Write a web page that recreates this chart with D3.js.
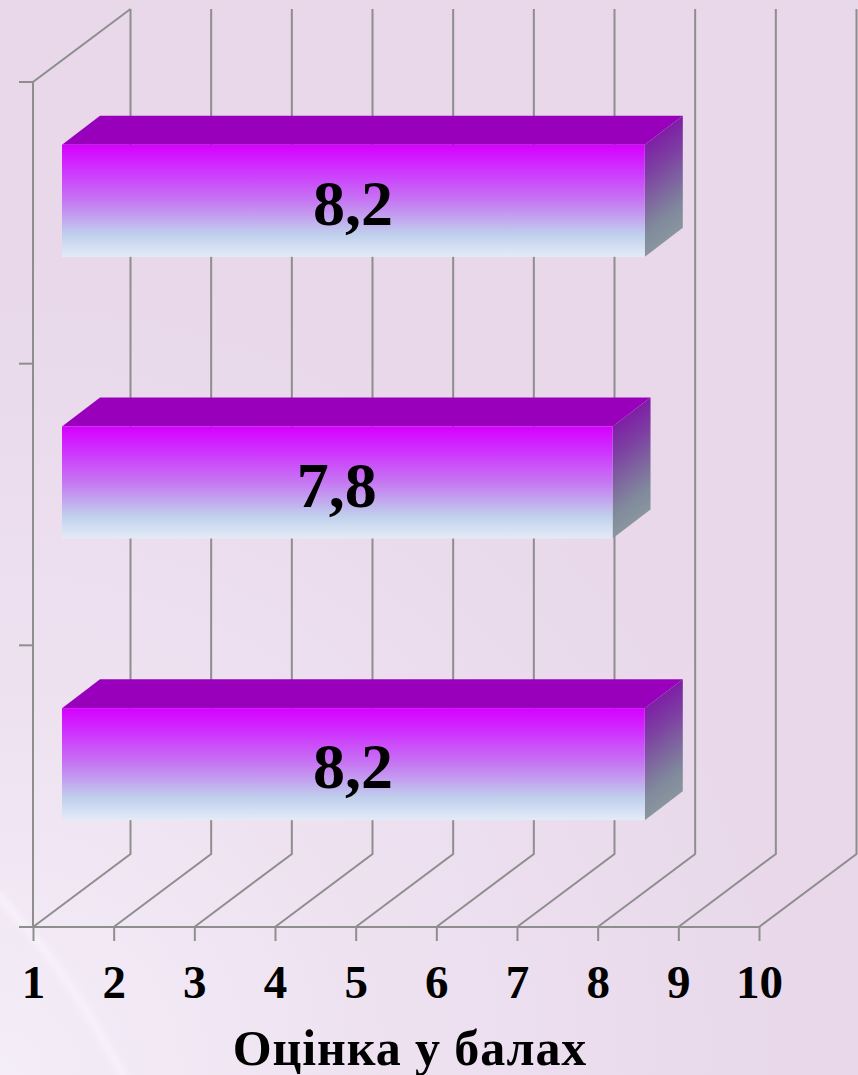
<!DOCTYPE html>
<html>
<head>
<meta charset="utf-8">
<script src="https://cdnjs.cloudflare.com/ajax/libs/d3/7.8.5/d3.min.js"></script>
<style>
  html, body { margin: 0; padding: 0; background: #e8d8ea; }
  svg { display: block; }
  text { font-family: "Liberation Serif", serif; font-weight: bold; fill: #000; }
</style>
</head>
<body>
<div id="chart"></div>
<script>
// values
const categories = ['a', 'b', 'c'];
const scores = [8.2, 7.8, 8.2];
const scoreLabels = ['8,2', '7,8', '8,2'];
const xTicks = [1, 2, 3, 4, 5, 6, 7, 8, 9, 10];
const axisTitle = 'Оцінка у балах';

const width = 858, height = 1075;
const depth = { x: 97.5, y: 73 };   // depth of the chart box
const barDepth = { x: 38, y: 29 };  // depth of a bar
const barShift = 29, barHeight = 112;
const gridColor = '#8e8e8e';

const svg = d3.select('#chart').append('svg')
  .attr('width', width)
  .attr('height', height);
const defs = svg.append('defs');

const x = d3.scaleLinear().domain([1, 10]).range([33, 759]);
const y = d3.scaleBand().domain(categories).range([82, 927]);

// background
const bg = defs.append('radialGradient')
  .attr('id', 'bg').attr('gradientUnits', 'userSpaceOnUse')
  .attr('cx', 0).attr('cy', 1075).attr('r', 820);
bg.append('stop').attr('offset', 0).attr('stop-color', '#f4eef8');
bg.append('stop').attr('offset', 0.45).attr('stop-color', '#eee2f1');
bg.append('stop').attr('offset', 1).attr('stop-color', '#e8d8ea');
svg.append('rect').attr('width', width).attr('height', height).attr('fill', 'url(#bg)');

defs.append('filter').attr('id', 'soft')
  .append('feGaussianBlur').attr('stdDeviation', 3);
svg.append('path')
  .attr('d', 'M-5,893 Q70,970 125,1080')
  .attr('fill', 'none').attr('stroke', '#f8f2fa').attr('stroke-width', 8)
  .attr('filter', 'url(#soft)');

// chart box
const grid = svg.append('g')
  .attr('fill', 'none').attr('stroke', gridColor).attr('stroke-width', 2);

grid.selectAll('.wall').data(xTicks).enter().append('path')
  .attr('class', 'wall')
  .attr('d', d => {
    const p = d3.path();
    p.moveTo(x(d), y.range()[1]);
    p.lineTo(x(d) + depth.x, y.range()[1] - depth.y);
    p.lineTo(x(d) + depth.x, y.range()[0] - depth.y);
    return p.toString();
  });

// y axis and its top edge
grid.append('path').attr('d', () => {
  const p = d3.path();
  p.moveTo(x(1), y.range()[1]);
  p.lineTo(x(1), y.range()[0]);
  p.lineTo(x(1) + depth.x, y.range()[0] - depth.y);
  return p.toString();
});
grid.selectAll('.ytick').data(categories.map(c => y(c)).concat(y.range()[1])).enter().append('line')
  .attr('class', 'ytick')
  .attr('x1', x(1) - 14).attr('x2', x(1))
  .attr('y1', d => d).attr('y2', d => d);

// x axis
const xAxis = svg.append('g')
  .attr('transform', `translate(0,${y.range()[1]})`)
  .call(d3.axisBottom(x).tickValues(xTicks).tickFormat(d3.format('d')).tickSize(14).tickPadding(24));
xAxis.selectAll('path, line').attr('stroke', gridColor).attr('stroke-width', 2);
xAxis.select('.domain').attr('d', `M${x(1)},0H${x(10)}`);
xAxis.selectAll('text')
  .attr('font-size', 47)
  .attr('font-family', '"Liberation Serif", serif')
  .attr('font-weight', 'bold')
  .attr('fill', '#000');

svg.append('text')
  .attr('x', 410).attr('y', 1065)
  .attr('text-anchor', 'middle')
  .attr('font-size', 50)
  .attr('letter-spacing', 0.9)
  .text(axisTitle);

// bar gradients
const front = defs.append('linearGradient')
  .attr('id', 'front').attr('x1', 0).attr('y1', 0).attr('x2', 0).attr('y2', 1);
[[0, '#d600ff'], [0.2, '#cf2eff'], [0.5, '#c677f2'], [0.8, '#bfd0ec'], [1, '#e4ebf7']]
  .forEach(s => front.append('stop').attr('offset', s[0]).attr('stop-color', s[1]));

const side = defs.append('linearGradient')
  .attr('id', 'side').attr('x1', 0).attr('y1', 0).attr('x2', 0.2).attr('y2', 1);
[[0, '#7f00a8'], [0.4, '#7d3fa2'], [0.8, '#808a9c'], [1, '#8c98a0']]
  .forEach(s => side.append('stop').attr('offset', s[0]).attr('stop-color', s[1]));

// bars
const bars = svg.selectAll('.bar').data(categories).enter().append('g').attr('class', 'bar');
const barLeft = x(1) + barShift;
const barRight = (d, i) => x(scores[i]) + barShift + 2;
const barTop = d => y(d) + y.bandwidth() / 2 - barHeight / 2 - 22;

bars.append('path')
  .attr('fill', '#9900bb')
  .attr('d', (d, i) => `M${barLeft},${barTop(d)}l${barDepth.x},${-barDepth.y}H${barRight(d, i) + barDepth.x}l${-barDepth.x},${barDepth.y}Z`);
bars.append('path')
  .attr('fill', 'url(#side)')
  .attr('d', (d, i) => `M${barRight(d, i)},${barTop(d)}l${barDepth.x},${-barDepth.y}v${barHeight}l${-barDepth.x},${barDepth.y}Z`);
bars.append('rect')
  .attr('fill', 'url(#front)')
  .attr('x', barLeft).attr('y', barTop)
  .attr('width', (d, i) => barRight(d, i) - barLeft)
  .attr('height', barHeight);
bars.append('text')
  .attr('x', (d, i) => (barLeft + barRight(d, i)) / 2 - 0.5)
  .attr('y', d => barTop(d) + 80)
  .attr('text-anchor', 'middle')
  .attr('font-size', 64)
  .text((d, i) => scoreLabels[i]);
</script>
</body>
</html>
